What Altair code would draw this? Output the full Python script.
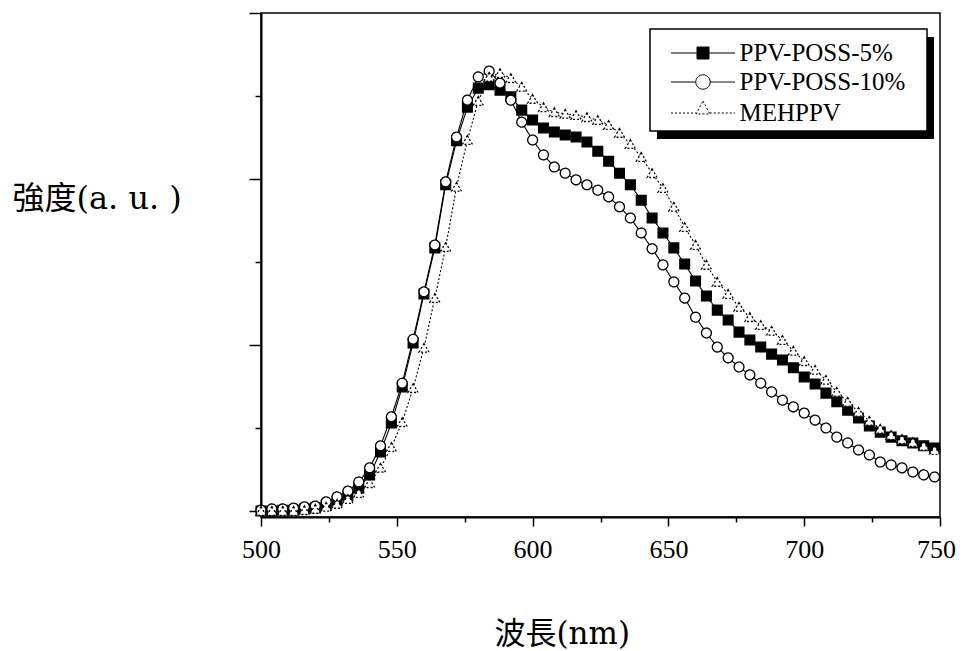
import altair as alt
import pandas as pd

# ---- data ----
wavelength = [500, 504, 508, 512, 516, 520, 524, 528, 532, 536, 540, 544, 548, 552, 556, 560,
              564, 568, 572, 576, 580, 584, 588, 592, 596, 600, 604, 608, 612, 616, 620, 624,
              628, 632, 636, 640, 644, 648, 652, 656, 660, 664, 668, 672, 676, 680, 684, 688,
              692, 696, 700, 704, 708, 712, 716, 720, 724, 728, 732, 736, 740, 744, 748]

ppv_poss_5 = [0.000, 0.000, 0.002, 0.002, 0.005, 0.007, 0.014, 0.024, 0.036, 0.055, 0.087, 0.142,
              0.212, 0.299, 0.405, 0.523, 0.634, 0.786, 0.892, 0.973, 1.019, 1.027, 1.014, 0.998,
              0.966, 0.942, 0.923, 0.913, 0.906, 0.901, 0.889, 0.867, 0.843, 0.814, 0.786, 0.749,
              0.706, 0.670, 0.634, 0.595, 0.554, 0.518, 0.484, 0.460, 0.431, 0.412, 0.395, 0.378,
              0.364, 0.345, 0.323, 0.306, 0.284, 0.263, 0.243, 0.224, 0.205, 0.190, 0.178, 0.169,
              0.164, 0.157, 0.152]

ppv_poss_10 = [0.002, 0.005, 0.005, 0.007, 0.010, 0.012, 0.022, 0.034, 0.048, 0.070, 0.104, 0.157,
               0.227, 0.308, 0.414, 0.528, 0.641, 0.793, 0.901, 0.990, 1.046, 1.060, 1.031, 0.990,
               0.937, 0.894, 0.858, 0.829, 0.814, 0.798, 0.786, 0.773, 0.757, 0.733, 0.706, 0.670,
               0.632, 0.593, 0.552, 0.513, 0.467, 0.429, 0.395, 0.369, 0.347, 0.328, 0.308, 0.287,
               0.267, 0.251, 0.236, 0.219, 0.200, 0.178, 0.164, 0.147, 0.135, 0.118, 0.111, 0.104,
               0.094, 0.087, 0.082]

mehppv = [0.000, 0.000, 0.000, 0.000, 0.002, 0.005, 0.010, 0.017, 0.029, 0.043, 0.067, 0.104,
          0.154, 0.214, 0.296, 0.393, 0.513, 0.636, 0.781, 0.894, 0.988, 1.046, 1.055, 1.043,
          1.022, 0.993, 0.973, 0.961, 0.957, 0.954, 0.949, 0.942, 0.930, 0.911, 0.884, 0.853,
          0.814, 0.778, 0.733, 0.684, 0.641, 0.593, 0.552, 0.523, 0.492, 0.467, 0.448, 0.434,
          0.412, 0.386, 0.361, 0.340, 0.316, 0.287, 0.263, 0.239, 0.217, 0.198, 0.183, 0.173,
          0.166, 0.157, 0.147]

series_names = ["PPV-POSS-5%", "PPV-POSS-10%", "MEHPPV"]
x_ticks = [500, 525, 550, 575, 600, 625, 650, 675, 700, 725, 750]
y_ticks = [0, 0.2, 0.4, 0.6, 0.8, 1.0, 1.2]

rows = []
for name, vals in zip(series_names, [ppv_poss_5, ppv_poss_10, mehppv]):
    for w, v in zip(wavelength, vals):
        rows.append({"wavelength": w, "intensity": v, "series": name})
df = pd.DataFrame(rows)

CJK_FONT = "DejaVu Serif, Noto Sans CJK TC"

x_axis = alt.Axis(
    values=x_ticks,
    labelExpr="datum.value % 50 === 0 ? datum.label : ''",
    tickSize={"condition": {"test": "datum.value % 50 === 0", "value": 9}, "value": 5},
    tickWidth=1.5, tickColor="black",
    domainColor="black", domainWidth=2,
    labelFont="Liberation Serif", labelFontSize=26, labelColor="black",
    labelPadding=10, labelFlush=False, labelOverlap=False,
    labelOffset={"condition": {"test": "datum.value === 750", "value": -4}, "value": 0},
    title="波長(nm)", titleFont=CJK_FONT, titleFontSize=31, titleFontWeight="normal",
    titleColor="black", titleAngle=0, titleAlign="left", titleBaseline="alphabetic",
    titleX=233, titleY=126,
    grid=False,
)
y_axis = alt.Axis(
    values=y_ticks,
    labels=False,
    tickSize={"condition": {"test": "abs(datum.value * 2.5 - round(datum.value * 2.5)) < 0.01", "value": 12}, "value": 6},
    tickWidth=1.5, tickColor="black",
    domainColor="black", domainWidth=2,
    title="強度(a. u. )", titleFont=CJK_FONT, titleFontSize=32, titleFontWeight="normal",
    titleColor="black", titleAngle=0, titleAlign="left", titleBaseline="alphabetic",
    titleX=-249, titleY=195,
    grid=False,
)

x_enc = alt.X("wavelength:Q", scale=alt.Scale(domain=[500, 750], nice=False, zero=False), axis=x_axis)
y_enc = alt.Y("intensity:Q", scale=alt.Scale(domain=[-0.0145, 1.2], nice=False, zero=False), axis=y_axis)

dash_range = [[1, 0], [1, 0], [2, 2]]

lines = alt.Chart(df).mark_line(color="black", strokeWidth=1.1).encode(
    x=x_enc, y=y_enc, detail="series:N",
    strokeDash=alt.StrokeDash("series:N", scale=alt.Scale(domain=series_names, range=dash_range), legend=None),
)

points = alt.Chart(df).mark_point(filled=True, stroke="black", strokeWidth=1.3, opacity=1).encode(
    x=x_enc, y=y_enc,
    shape=alt.Shape("series:N", scale=alt.Scale(domain=series_names, range=["square", "circle", "triangle-up"]), legend=None),
    fill=alt.Fill("series:N", scale=alt.Scale(domain=series_names, range=["black", "white", "white"]), legend=None),
    size=alt.Size("series:N", scale=alt.Scale(domain=series_names, range=[95, 100, 120]), legend=None),
    strokeDash=alt.StrokeDash("series:N", scale=alt.Scale(domain=series_names, range=dash_range), legend=None),
)

one = pd.DataFrame({"k": [0]})
shadow = alt.Chart(one).mark_rect(color="black").encode(
    x=alt.value(396), x2=alt.value(673), y=alt.value(24), y2=alt.value(126))
box = alt.Chart(one).mark_rect(fill="white", stroke="black", strokeWidth=1.5).encode(
    x=alt.value(389), x2=alt.value(666), y=alt.value(16), y2=alt.value(118))

legend_paths = [
    "M-3.2,0H-0.6M0.6,0H3.2M-0.6,-0.6H0.6V0.6H-0.6Z",
    "M-3.2,0H-0.72M0.72,0H3.2M0.72,0A0.72,0.72 0 1 1 -0.72,0A0.72,0.72 0 1 1 0.72,0Z",
    "M-3.2,0H-0.68M0.68,0H3.2M0,-1.2L0.68,0.1L-0.68,0.1Z",
]
leg = alt.Legend(
    orient="none", legendX=429.5, legendY=27.5, title=None, padding=0,
    labelFont="Liberation Serif", labelFontSize=25, labelColor="black", labelOffset=24,
    labelLimit=400, symbolSize=400, symbolStrokeWidth=1, symbolStrokeColor="black",
    rowPadding=3,
)
legend_layer = alt.Chart(df).transform_filter("false").mark_point(
    filled=True, strokeWidth=1, size=400, opacity=1
).encode(
    shape=alt.Shape("series:N", scale=alt.Scale(domain=series_names, range=legend_paths), legend=leg),
    fill=alt.Fill("series:N", scale=alt.Scale(domain=series_names, range=["black", "white", "white"]), legend=leg),
    stroke=alt.Stroke("series:N", scale=alt.Scale(domain=series_names, range=["black", "black", "black"]), legend=leg),
    strokeDash=alt.StrokeDash("series:N", scale=alt.Scale(domain=series_names, range=dash_range), legend=leg),
)

chart = alt.layer(lines, points, shadow, box, legend_layer).resolve_scale(
    shape="independent", fill="independent", strokeDash="independent", stroke="independent", size="independent"
).properties(
    width=679, height=504,
    autosize=alt.AutoSizeParams(type="none"),
    padding={"left": 253, "top": 5, "right": 16, "bottom": 134},
).configure_view(stroke="black", strokeWidth=1.5)

chart.save("out.html", embed_options={"renderer": "svg", "actions": False})
